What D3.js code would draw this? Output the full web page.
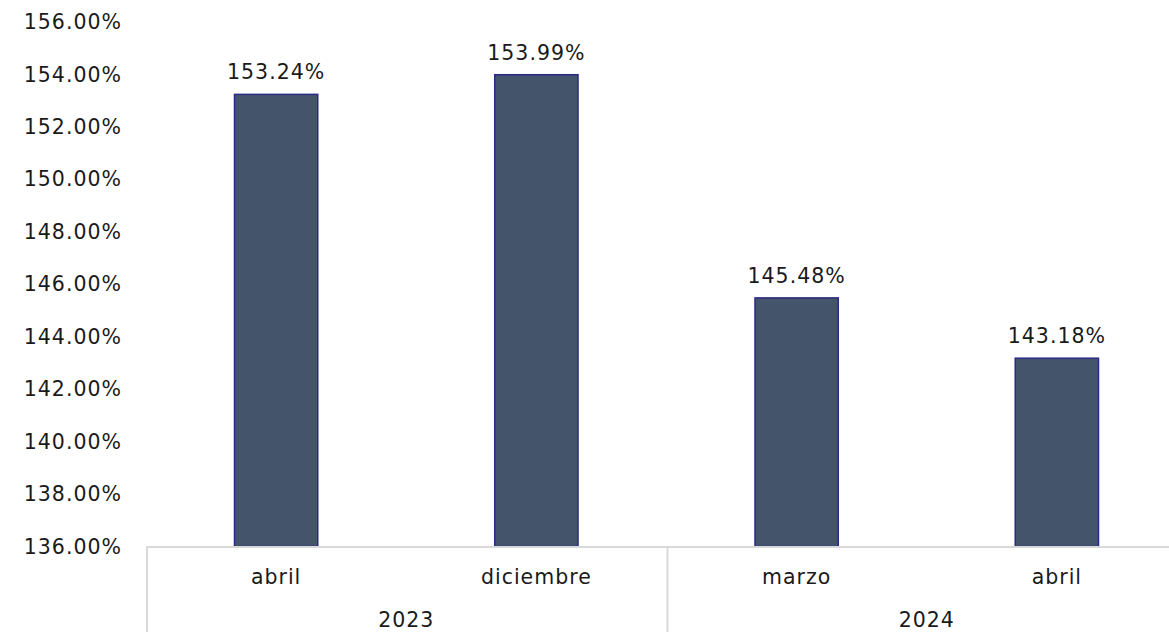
<!DOCTYPE html>
<html>
<head>
<meta charset="utf-8">
<script src="https://cdn.jsdelivr.net/npm/d3@7"></script>
<style>
  html, body { margin: 0; padding: 0; background: #fff; }
  svg { display: block; }
  text { font-family: "DejaVu Sans", "Noto Sans", sans-serif; fill: #1a1a1a; letter-spacing: 1px; }
</style>
</head>
<body>
<svg id="chart" width="1169" height="632"></svg>
<script>
// Ratio values per month, grouped by year
const months = ["abril", "diciembre", "marzo", "abril"];
const years = ["2023", "2023", "2024", "2024"];
const values = [153.24, 153.99, 145.48, 143.18];
const yearGroups = ["2023", "2024"];
const yTicks = [136, 138, 140, 142, 144, 146, 148, 150, 152, 154, 156];

const svg = d3.select("#chart");
const W = 1169, H = 632;
const FS = 20.5;

const x = d3.scaleBand()
  .domain(d3.range(values.length))
  .range([146, 1187])
  .paddingInner(0.68)
  .paddingOuter(0.34);

const y = d3.scaleLinear().domain([136, 156]).range([546.5, 22]);

const fmt = v => v.toFixed(2) + "%";

// Y axis labels (no axis line)
const yAxis = d3.axisLeft(y).tickValues(yTicks).tickFormat(fmt).tickSize(0).tickPadding(0);
const gy = svg.append("g").attr("transform", "translate(122,0)").call(yAxis);
gy.select(".domain").remove();
gy.selectAll("text")
  .attr("font-size", FS)
  .attr("font-family", "\"DejaVu Sans\", \"Noto Sans\", sans-serif")
  .attr("fill", "#1a1a1a");

// Bars
svg.append("g").selectAll("rect")
  .data(values)
  .join("rect")
  .attr("x", (d, i) => x(i))
  .attr("width", x.bandwidth())
  .attr("y", d => y(d))
  .attr("height", d => y(136) - y(d))
  .attr("fill", "#44546a")
  .attr("stroke", "#2b2a85")
  .attr("stroke-width", 1.5);

// Value labels
svg.append("g").selectAll("text")
  .data(values)
  .join("text")
  .attr("x", (d, i) => x(i) + x.bandwidth() / 2)
  .attr("y", d => y(d) - 15)
  .attr("text-anchor", "middle")
  .attr("font-size", FS)
  .text(d => fmt(d));

// Category axis: baseline, month labels, year group separators
const step = x.step();
const x0 = x.range()[0];
const grid = svg.append("g").attr("stroke", "#d9d9d9").attr("stroke-width", 2);
grid.append("line").attr("x1", x0).attr("x2", W).attr("y1", y(136) + 0.5).attr("y2", y(136) + 0.5);

const groupBounds = yearGroups.map(g => {
  const idx = years.map((yv, i) => yv === g ? i : -1).filter(i => i >= 0);
  return { year: g, start: x0 + idx[0] * step, end: x0 + (idx[idx.length - 1] + 1) * step };
});

groupBounds.forEach(b => {
  grid.append("line").attr("x1", b.start + 1).attr("x2", b.start + 1).attr("y1", y(136)).attr("y2", H);
});

svg.append("g").selectAll("text")
  .data(months)
  .join("text")
  .attr("x", (d, i) => x(i) + x.bandwidth() / 2)
  .attr("y", 584)
  .attr("text-anchor", "middle")
  .attr("font-size", FS)
  .text(d => d);

svg.append("g").selectAll("text")
  .data(groupBounds)
  .join("text")
  .attr("x", d => (d.start + d.end) / 2)
  .attr("y", 627)
  .attr("text-anchor", "middle")
  .attr("font-size", FS)
  .text(d => d.year);
</script>
</body>
</html>
